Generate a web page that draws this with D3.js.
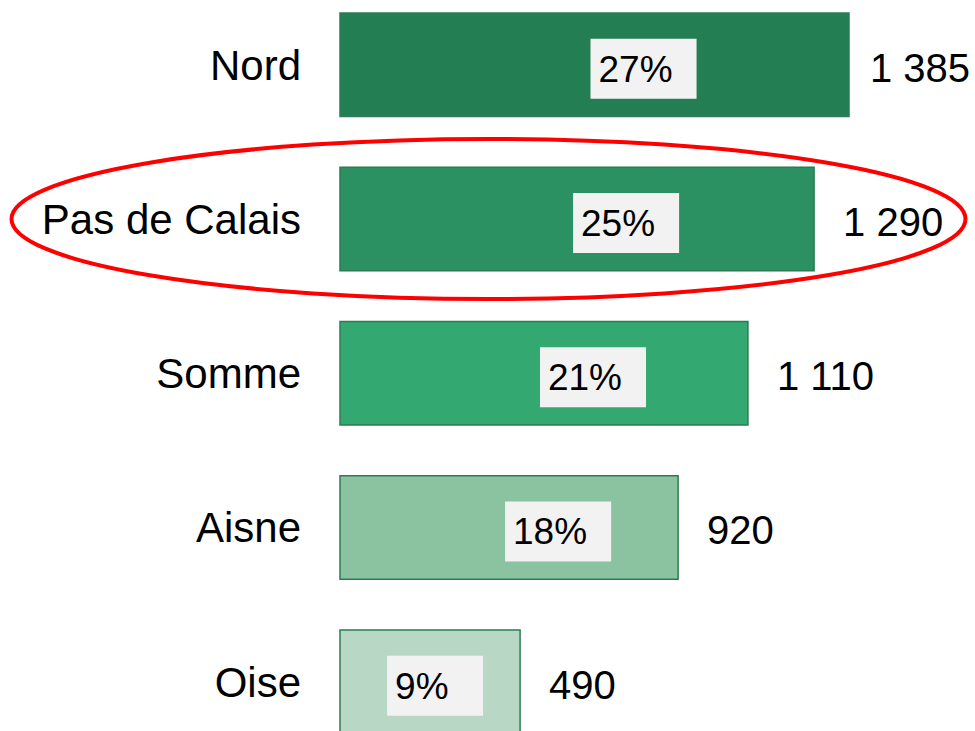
<!DOCTYPE html>
<html>
<head>
<meta charset="utf-8">
<script src="https://cdn.jsdelivr.net/npm/d3@7"></script>
<style>
  body { margin: 0; background: #fff; }
  svg { display: block; font-family: "Liberation Sans", Arial, sans-serif; }
</style>
</head>
<body>
<svg id="chart"></svg>
<script>
// departments, counts and shares
var departements = ["Nord", "Pas de Calais", "Somme", "Aisne", "Oise"];
var effectifs = [1385, 1290, 1110, 920, 490];
var parts = ["27%", "25%", "21%", "18%", "9%"];
var couleurs = ["#237e54", "#2b9062", "#33a870", "#8bc3a1", "#b8d7c5"];
var surligne = "Pas de Calais";

var width = 975;
var height = 731;

var data = departements.map((d, i) => ({
  nom: d,
  valeur: effectifs[i],
  part: parts[i],
  couleur: couleurs[i]
}));

var svg = d3.select('#chart')
    .attr('width', width)
    .attr('height', height);

var x = d3.scaleLinear()
          .domain([0, 1385])
          .range([340, 849]);

var y = d3.scaleBand()
          .domain(departements)
          .range([13, 733.5])
          .paddingInner(0.329)
          .paddingOuter(0);

var bw = y.bandwidth();

// bars
svg.selectAll('.bar')
  .data(data)
  .enter()
    .append('rect')
    .classed('bar', true)
    .attr('x', x(0))
    .attr('y', d => y(d.nom))
    .attr('width', d => x(d.valeur) - x(0))
    .attr('height', bw)
    .attr('fill', d => d.couleur)
    .attr('stroke', '#2a7d52')
    .attr('stroke-width', 1.5);

// category names on the left
svg.selectAll('.nom')
  .data(data)
  .enter()
    .append('text')
    .classed('nom', true)
    .attr('x', 301)
    .attr('y', d => y(d.nom) + bw / 2 + 15)
    .attr('text-anchor', 'end')
    .attr('font-size', 42)
    .attr('fill', '#000')
    .text(d => d.nom);

// values to the right of each bar
svg.selectAll('.valeur')
  .data(data)
  .enter()
    .append('text')
    .classed('valeur', true)
    .attr('x', d => x(d.valeur) + 29)
    .attr('y', d => y(d.nom) + bw / 2 + 17)
    .attr('font-size', 40)
    .attr('fill', '#000')
    .text(d => d3.format(",")(d.valeur).replace(/,/g, " "))
    .each(function() { // keep the label inside the page
      var t = d3.select(this);
      var w = this.getComputedTextLength();
      var x0 = +t.attr('x');
      if (x0 + w > width - 5) t.attr('x', width - 5 - w);
    });

// percentage boxes inside bars
var pct = svg.selectAll('.pct')
  .data(data)
  .enter()
    .append('g')
    .classed('pct', true);

pct.append('text')
    .attr('font-size', 37)
    .attr('fill', '#000')
    .text(d => d.part);

pct.each(function(d) {
  var g = d3.select(this);
  var t = g.select('text');
  var w = t.node().getComputedTextLength();
  var boxW = Math.max(w + 32, 96);
  var boxH = 60;
  var left = Math.min(x(d.valeur / 2) - 4, x(d.valeur) - boxW - 37);
  var top = y(d.nom) + bw / 2 + 4 - boxH / 2;
  g.insert('rect', 'text')
      .attr('x', left)
      .attr('y', top)
      .attr('width', boxW)
      .attr('height', boxH)
      .attr('fill', '#f2f2f2');
  t.attr('x', left + 8)
   .attr('y', top + boxH / 2 + 13);
});

// red ellipse around the highlighted row
svg.append('ellipse')
    .attr('cx', 488.5)
    .attr('cy', y(surligne) + bw / 2)
    .attr('rx', 477)
    .attr('ry', 80)
    .attr('fill', 'none')
    .attr('stroke', '#ff0000')
    .attr('stroke-width', 4);
</script>
</body>
</html>
